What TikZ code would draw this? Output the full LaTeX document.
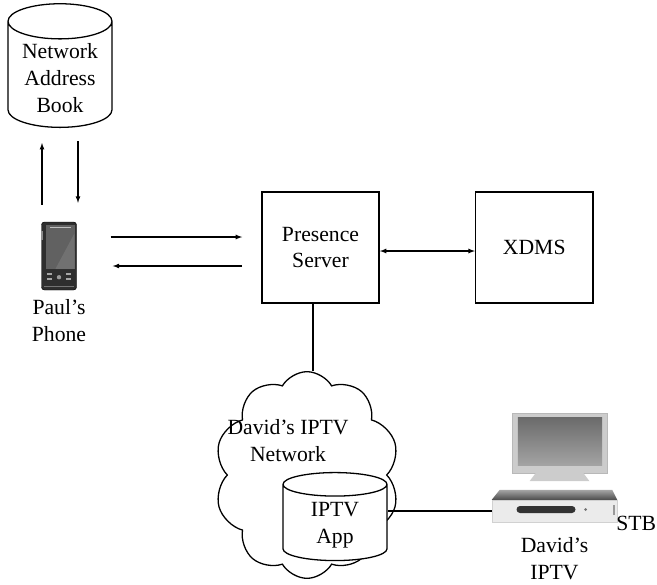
\documentclass[tikz,border=0pt]{standalone}
\usepackage{fontspec}
\setmainfont{Liberation Serif}
\usetikzlibrary{positioning,shapes.geometric,shapes.symbols}

\tikzset{
  every node/.style={font=\fontsize{18.5}{23}\selectfont, text=black},
  box/.style={draw, line width=1.2pt, minimum width=3.52cm, minimum height=3.33cm, align=center},
  store/.style={draw, line width=1.1pt, cylinder, shape border rotate=90, aspect=0.42,
    fill=white, align=center, minimum width=3.12cm},
  caption/.style={inner sep=0pt, align=center},
  flow/.style={->, >=latex, line width=0.9pt},
  link/.style={line width=1pt},
}

\begin{document}
\begin{tikzpicture}[x=0.03cm, y=-0.03cm]
    \useasboundingbox (0,0) rectangle (657,584);

    % servers and stores
    \node[store, minimum height=3.45cm] (netbook) at (60,78) {Network\\Address\\Book};
    \node[box] (presence) at (320.5,247.5) {Presence\\Server};
    \node[box, right=2.85cm of presence] (xdms) {XDMS};

    % the IPTV network with its app
    \node[cloud, draw, line width=1.1pt, cloud puffs=10, cloud puff arc=120, cloud ignores aspect,
      minimum width=5.55cm, minimum height=6.2cm] (iptvnet) at (307,475) {};
    \node[caption] (netlabel) at (288,441) {David's IPTV\\Network};
    \node[store, minimum height=2.64cm] (iptvapp) at (335,525) {IPTV\\App};

    % Paul's phone
    \node[fill=black!82, draw=black, rounded corners=2.5pt, inner sep=0pt,
      minimum width=1.05cm, minimum height=2.04cm] (phone) at (59,256) {};
    \fill[black!62] ([shift={(5,3)}]phone.north west) rectangle ([shift={(-2,-21)}]phone.south east);
    \fill[white, opacity=0.10] ([shift={(33,12)}]phone.north west) -- ([shift={(-2,-21)}]phone.south east)
      -- ([shift={(14,-21)}]phone.south west) -- cycle;
    \draw[black!25, line width=0.8pt] ([shift={(9,6)}]phone.north west) -- ([shift={(-6,6)}]phone.north east);
    \fill[black!45] ([shift={(0,9)}]phone.north west) rectangle ([shift={(2,18)}]phone.north west);
    \foreach \kx in {6,25} {
      \fill[black!35] ([shift={(\kx,-17)}]phone.south west) rectangle ([shift={(\kx+5,-15.5)}]phone.south west);
      \fill[black!35] ([shift={(\kx,-12)}]phone.south west) rectangle ([shift={(\kx+5,-10.5)}]phone.south west);
    }
    \fill[black!40] ([shift={(0,-13)}]phone.south) circle (2.2);
    \draw[black!55, line width=0.4pt] ([shift={(3,-4)}]phone.south west) -- ([shift={(-3,-4)}]phone.south east);
    \node[caption, below=7.5pt of phone] (phonelabel) {Paul's\\Phone};

    % TV and set-top box
    \node[fill=black!20, draw=black!28, inner sep=0pt, minimum width=2.85cm, minimum height=1.8cm]
      (tv) at (559.5,443) {};
    \shade[top color=black!58, bottom color=black!36] ([shift={(6,5)}]tv.north west)
      rectangle ([shift={(-5,-8)}]tv.south east);
    \fill[black!20] ([shift={(-24,0)}]tv.south) -- ([shift={(24,0)}]tv.south)
      -- ([shift={(30,8)}]tv.south) -- ([shift={(-30,8)}]tv.south) -- cycle;
    \node[fill=black!8, draw=black!18, inner sep=0pt, minimum width=3.75cm, minimum height=0.66cm]
      (stb) at (554.5,511) {};
    \shade[top color=black!35, bottom color=black!70] (stb.north west) -- ([shift={(8,-10)}]stb.north west)
      -- ([shift={(-5,-10)}]stb.north east) -- (stb.north east) -- cycle;
    \fill[black!80, rounded corners=3pt] ([shift={(-38,-5)}]stb.center) rectangle ([shift={(21,2)}]stb.center);
    \fill[black!55] ([shift={(31,-1.5)}]stb.center) circle (1.5);
    \fill[black!40] ([shift={(-4,-6)}]stb.east) rectangle ([shift={(-2,4)}]stb.east);
    \node[caption, anchor=base east] (stblabel) at ([shift={(39,19)}]stb.east) {STB};
    \node[caption, below=13pt of stb] (tvlabel) {David's\\IPTV};

    % connections
    \draw[flow] ([shift={(-17,-17)}]phone.north) -- ([shift={(-18,15)}]netbook.south);
    \draw[flow] ([shift={(18,13)}]netbook.south) -- ([shift={(19,-19)}]phone.north);
    \draw[flow] ([shift={(34,-19)}]phone.east) -- ([shift={(-19,-10.5)}]presence.west);
    \draw[flow] ([shift={(-19,18.5)}]presence.west) -- ([shift={(36,10)}]phone.east);
    \draw[flow, <->] ([shift={(0,3.5)}]presence.east) -- ([shift={(0,3.5)}]xdms.west);
    \draw[link] ([shift={(-7.5,0)}]presence.south) -- ([shift={(-7.5,0)}]presence.south |- iptvnet.north);
    \draw[link] (stb.west) -- (stb.west -| iptvnet.east);
\end{tikzpicture}
\end{document}
